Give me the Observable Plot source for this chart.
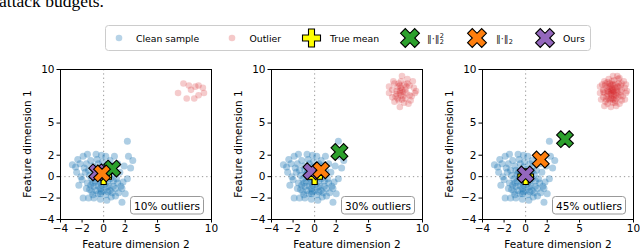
<!DOCTYPE html>
<html><head><meta charset="utf-8">
<script src="https://cdn.jsdelivr.net/npm/d3@7"></script>
<script src="https://cdn.jsdelivr.net/npm/@observablehq/plot@0.6"></script>
<style>
body{margin:0;background:#fff;}
#root{position:relative;width:640px;height:251px;overflow:hidden;font-family:"DejaVu Sans",sans-serif;}
#root > svg{position:absolute;}
</style></head><body><div id="root"></div>
<script>
// ---- data ----
const tickVals = [-4, -2, 0, 2, 5, 10];
const panelLabels = ["10% outliers", "30% outliers", "45% outliers"];
const outlierCounts = [11, 43, 80];
const legendLabels = ["Clean sample", "Outlier", "True mean", "sq", "l2", "Ours"];
const xLabel = "Feature dimension 2";
const yLabel = "Feature dimension 1";
const trueMean = [0, 0];
const estSq   = [[0.8, 0.75], [2.3, 2.3], [3.65, 3.5]];
const estL2   = [[-0.15, 0.3], [0.6, 0.6], [1.4, 1.6]];
const estOurs = [[-0.6, 0.4], [-0.3, 0.5], [0.0, 0.2]];
const clean = [
[2.2,3.3],[2.3,1.9],[2.7,1.5],[-2.4,1.6],[-1.5,2.1],[-0.7,2.1],[-1.9,-2.0],[-1.4,-2.0],[-0.9,-2.0],[1.7,-2.4],
[1.1,-1.8],[2.5,0.8],[2.2,-0.2],[1.7,-1.1],[0.3,-2.2],[-2.2,1.2],[-1.2,1.5],[0.2,1.9],[0.6,1.5],[1.3,1.2],
[-0.5,1.2],[-1.8,0.8],[-2.5,0.4],[-2.0,-0.3],[-1.6,-1.1],[-1.1,-1.4],[-0.3,-1.6],[0.6,-1.3],[1.3,-0.6],[1.5,0.4],
[-0.9,0.6],[-0.4,0.3],[0.1,0.7],[0.8,0.2],[0.4,-0.4],[-0.2,-0.8],[-0.8,-0.4],[-1.3,0.1],[-1.5,-0.6],[0.9,-0.9],
[-0.1,0.1],[0.3,0.3],[-0.6,-0.1],[0.0,-0.4],[-0.3,-1.1],[0.5,-0.9],[1.0,0.6],[-1.0,1.0],[-0.2,0.9],[0.7,1.0],
[-2.1,0.0],[-1.7,0.4],[-1.2,-0.8],[-0.7,-1.3],[0.0,-1.3],[0.2,-0.1],[-0.5,0.6],[1.2,-0.2],[0.6,0.5],[-0.9,-0.9],
[-0.4,-0.5],[0.1,-0.7],[0.9,-0.4],[-1.4,0.6],[-0.1,1.4],[0.4,1.2],[-0.6,1.6],[1.8,-0.5],[-2.3,-0.8],[-0.3,-2.1],
[0.7,-1.9],[1.4,-1.5],[-1.0,-1.7],[0.2,-1.7],[-1.9,1.9],[-0.2,2.0],[1.0,1.9],[1.9,1.0],[-2.6,0.9],[-0.8,0.2],
[0.5,0.1],[-0.1,-0.2],[0.3,-1.0],[-1.1,-0.2],[1.6,-0.9],[-0.5,-1.6],[0.8,-1.5],[-1.6,1.2],[2.0,-1.6],[-2.9,1.1],
[-0.3,-0.3],[0.2,0.4],[-0.7,0.4],[0.6,-0.2],[-0.2,-1.4],[-1.0,-0.6],[0.4,-1.4],[-0.5,-0.9],[1.1,-1.1],[-1.3,-1.2]
];
const outliers = [
[6.9,7.8],[7.4,8.7],[7.9,8.5],[8.1,8.1],[8.5,8.4],[8.8,8.5],[9.2,8.3],[9.3,7.8],[8.8,7.6],[8.4,7.3],
[7.7,7.3],[7.9,7.8],[8.2,7.9],[7.6,8.0],[8.0,8.9],[8.6,9.1],[7.2,8.1],[7.5,7.5],[8.3,6.9],[7.9,6.5],
[8.9,7.1],[9.4,8.0],[8.1,9.4],[7.3,8.9],[7.8,7.1],[8.5,7.8],[8.0,8.3],[7.7,8.4],[8.3,8.6],[7.4,7.0],
[8.7,6.8],[6.9,8.4],[9.1,8.9],[8.2,7.5],[7.6,7.7],[8.4,8.1],[7.9,8.0],[8.1,7.2],[8.6,8.7],[7.2,7.4],
[9.0,7.5],[8.0,7.6],[7.8,8.7],[8.3,8.3],[7.7,7.9],[8.1,8.6],[7.5,8.3],[8.6,7.4],[8.9,8.1],[7.3,7.8],
[8.2,9.0],[7.9,7.3],[8.4,6.6],[7.1,8.6],[8.7,9.2],[9.2,7.2],[7.6,6.8],[8.0,8.1],[8.5,8.0],[7.8,8.2],
[8.2,7.7],[7.4,8.5],[8.8,7.9],[8.1,6.9],[7.0,7.2],[9.3,8.6],[7.7,9.1],[8.3,7.1],[8.6,8.4],[7.5,7.2],
[8.0,8.6],[7.9,7.7],[8.4,7.6],[7.2,7.9],[8.9,8.7],[8.1,8.0],[7.6,8.8],[8.5,9.4],[7.3,6.6],[8.0,7.3]
];

// ---- styles ----
const C = {clean:"#1f77b4", out:"#d62728", mean:"#ffff00", sq:"#2ca02c", l2:"#ff7f0e", ours:"#9467bd"};
const plusPts = [[-1,-3],[1,-3],[1,-1],[3,-1],[3,1],[1,1],[1,3],[-1,3],[-1,1],[-3,1],[-3,-1],[-1,-1]];
function makeSym(rot) {
  return {draw(ctx, size) {
    const k = Math.sqrt(size / Math.PI) / 3;
    plusPts.forEach(([a, b], i) => {
      let x = a, y = b;
      if (rot) { x = (a - b) * Math.SQRT1_2; y = (a + b) * Math.SQRT1_2; }
      if (i) ctx.lineTo(x * k, y * k); else ctx.moveTo(x * k, y * k);
    });
    ctx.closePath();
  }};
}
const plusSym = makeSym(false), xSym = makeSym(true);
const root = document.getElementById("root");

// ---- top legend + cut text ----
const head = d3.create("svg").attr("width", 640).attr("height", 55).style("left","0px").style("top","0px");
root.appendChild(head.node());
head.append("text").attr("x", -1).attr("y", 6.5).attr("font-family", "Liberation Serif").attr("font-size", 17.5).text("attack budgets.");
head.append("rect").attr("x", 105.5).attr("y", 25.5).attr("width", 485).attr("height", 25).attr("rx", 3)
  .attr("fill", "#fff").attr("stroke", "#cccccc");
const ly = 38;
const items = [
  {mx:119, tx:136, kind:"dot", color:C.clean, op:0.32},
  {mx:232, tx:249.5, kind:"dot", color:C.out, op:0.25},
  {mx:311.5, tx:330, kind:"plus", color:C.mean},
  {mx:410, tx:427, kind:"x", color:C.sq},
  {mx:477, tx:496, kind:"x", color:C.l2},
  {mx:545, tx:563, kind:"x", color:C.ours}
];
items.forEach((it, i) => {
  if (it.kind === "dot") head.append("circle").attr("cx", it.mx).attr("cy", ly).attr("r", 3.3).attr("fill", it.color).attr("fill-opacity", it.op);
  else head.append("path").attr("transform", `translate(${it.mx},${ly})`)
    .attr("d", d3.symbol(it.kind === "x" ? xSym : plusSym, Math.PI * (it.kind === "x" ? 10 : 9) ** 2)())
    .attr("fill", it.color).attr("stroke", "#000").attr("stroke-width", 1.1);
  const lab = legendLabels[i];
  if (lab === "sq" || lab === "l2") {
    const t = head.append("text").attr("x", it.tx).attr("y", ly + 3.5).attr("font-size", 9.5).attr("fill", "#222").text("‖⋅‖");
    const w = t.node().getComputedTextLength();
    head.append("text").attr("x", it.tx + w + 0.3).attr("y", ly + 6).attr("font-size", 6.5).text("2");
    if (lab === "sq") head.append("text").attr("x", it.tx + w + 0.3).attr("y", ly - 0.5).attr("font-size", 6.5).text("2");
  } else {
    head.append("text").attr("x", it.tx).attr("y", ly + 3.5).attr("font-size", 9.3).text(lab);
  }
});

// ---- panels ----
function panel(i) {
  const box = (index, scales, values, dims) => {
    const g = d3.create("svg:g");
    const w = 73, h = 17.5;
    const x = dims.width - dims.marginRight - 7.5 - w, y = dims.height - dims.marginBottom - 5 - h;
    g.append("rect").attr("x", x).attr("y", y).attr("width", w).attr("height", h).attr("rx", 3)
      .attr("fill", "#fff").attr("fill-opacity", 0.85).attr("stroke", "#999").attr("stroke-width", 1);
    g.append("text").attr("x", x + w / 2).attr("y", y + h / 2 + 0.5).attr("text-anchor", "middle")
      .attr("dominant-baseline", "central").attr("font-size", 10.5).attr("fill", "#000").text(panelLabels[i]);
    return g.node();
  };
  const ylab = (index, scales, values, dims) => {
    const cy = (dims.marginTop + dims.height - dims.marginBottom) / 2;
    return d3.create("svg:text")
      .attr("transform", `translate(${dims.marginLeft - 33},${cy}) rotate(-90)`)
      .attr("text-anchor", "middle").attr("dominant-baseline", "central")
      .attr("font-size", 10.5).attr("fill", "#000").text(yLabel).node();
  };
  const pt = {x: d => d[0], y: d => d[1]};
  const svg = Plot.plot({
    width: 219, height: 196,
    marginLeft: 60, marginRight: 8, marginTop: 14, marginBottom: 32,
    style: {fontFamily: "DejaVu Sans", fontSize: "10.5px", color: "#000", background: "transparent", overflow: "visible"},
    x: {domain: [-4, 10]},
    y: {domain: [-4, 10]},
    marks: [
      Plot.ruleX([0], {stroke: "#999", strokeWidth: 1, strokeDasharray: "1.3,3"}),
      Plot.ruleY([0], {stroke: "#999", strokeWidth: 1, strokeDasharray: "1.3,3"}),
      Plot.dot(clean, {...pt, r: 3.5, fill: C.clean, fillOpacity: 0.36}),
      Plot.dot(outliers.slice(0, outlierCounts[i]), {...pt, r: 3.3, fill: C.out, fillOpacity: 0.24}),
      Plot.dot([trueMean], {...pt, symbol: plusSym, r: 7.8, fill: C.mean, stroke: "#000", strokeWidth: 1.1}),
      Plot.dot([estOurs[i]], {...pt, symbol: xSym, r: 8.9, fill: C.ours, stroke: "#000", strokeWidth: 1.1}),
      Plot.dot([estSq[i]], {...pt, symbol: xSym, r: 8.9, fill: C.sq, stroke: "#000", strokeWidth: 1.1}),
      Plot.dot([estL2[i]], {...pt, symbol: xSym, r: 8.9, fill: C.l2, stroke: "#000", strokeWidth: 1.1}),
      Plot.frame({stroke: "#000", strokeWidth: 1}),
      Plot.axisX({ticks: tickVals, tickSize: 3.5, tickPadding: 2, label: null}),
      Plot.axisY({ticks: tickVals, tickSize: 3.5, tickPadding: 2.5, label: null}),
      Plot.text([xLabel], {frameAnchor: "bottom", dy: 28, text: d => d, fontSize: 10.5}),
      ylab,
      box
    ]
  });
  svg.style.position = "absolute";
  svg.style.left = (i * 211) + "px";
  svg.style.top = "55px";
  svg.style.maxWidth = "none";
  root.appendChild(svg);
}
[0, 1, 2].forEach(panel);
</script></body></html>
